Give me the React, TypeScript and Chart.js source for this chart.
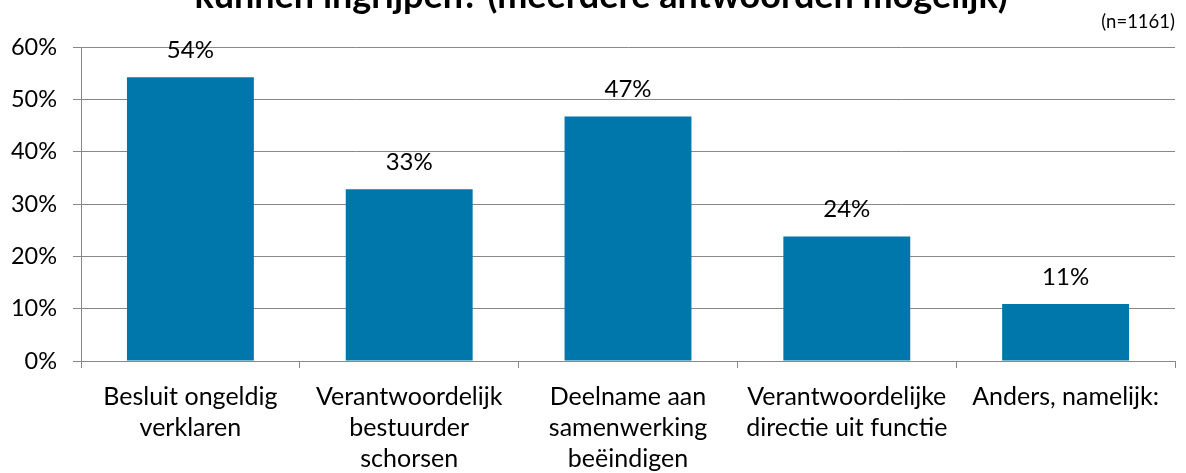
import React, { useEffect, useRef } from "react";
import { Chart, registerables } from "chart.js";

Chart.register(...registerables);

const categories: string[][] = [
  ["Besluit ongeldig", "verklaren"],
  ["Verantwoordelijk", "bestuurder", "schorsen"],
  ["Deelname aan", "samenwerking", "beëindigen"],
  ["Verantwoordelijke", "directie uit functie"],
  ["Anders, namelijk:"],
];
const values: number[] = [54.2, 32.8, 46.7, 23.8, 10.9];
const valueLabels: string[] = ["54%", "33%", "47%", "24%", "11%"];
const yTicks: number[] = [0, 10, 20, 30, 40, 50, 60];
const titleText = "kunnen ingrijpen? (meerdere antwoorden mogelijk)";
const noteText = "(n=1161)";

const FONT = "Lato, 'Open Sans', sans-serif";
const BAR = "#0077AA";

export default function App() {
  const ref = useRef<HTMLCanvasElement | null>(null);
  useEffect(() => {
    if (!ref.current) return;
    const overlay = {
      id: "overlay",
      afterDraw(chart: any) {
        const ctx = chart.ctx;
        ctx.save();
        ctx.fillStyle = "#000";
        ctx.font = `bold 36px ${FONT}`;
        ctx.textAlign = "center";
        ctx.textBaseline = "alphabetic";
        ctx.fillText(titleText, 601, 8);
        ctx.font = `18.5px ${FONT}`;
        ctx.textAlign = "right";
        ctx.textBaseline = "middle";
        ctx.fillText(noteText, 1175, 22);
        const meta = chart.getDatasetMeta(0);
        ctx.textAlign = "center";
        ctx.font = `24px ${FONT}`;
        meta.data.forEach((bar: any, i: number) => {
          ctx.fillText(valueLabels[i], bar.x, bar.y - 27);
        });
        ctx.restore();
      },
    };
    const chart = new Chart(ref.current, {
      type: "bar",
      data: {
        labels: categories,
        datasets: [
          {
            data: values,
            backgroundColor: BAR,
            barPercentage: 0.58,
            categoryPercentage: 1,
          },
        ],
      },
      options: {
        animation: false,
        responsive: false,
        layout: { padding: { left: 0, right: 11, top: 47, bottom: 0 } },
        plugins: { legend: { display: false }, tooltip: { enabled: false } },
        scales: {
          x: {
            grid: {
              offset: true,
              drawOnChartArea: false,
              drawTicks: true,
              tickLength: 7,
              color: "#888",
            },
            border: { color: "#888", width: 1 },
            ticks: {
              color: "#000",
              font: { family: FONT, size: 25, lineHeight: 1.25 },
              maxRotation: 0,
              autoSkip: false,
              padding: 13,
            },
            afterFit(scale: any) {
              scale.height = 112;
            },
          },
          y: {
            min: 0,
            max: 60,
            afterBuildTicks(scale: any) {
              scale.ticks = yTicks.map((v) => ({ value: v }));
            },
            grid: { color: "#888", tickLength: 8 },
            border: { color: "#888" },
            ticks: {
              color: "#000",
              font: { family: FONT, size: 23.5 },
              padding: 16,
              callback: (v: any) => `${v}%`,
            },
            afterFit(scale: any) {
              scale.width = 81;
            },
          },
        },
      },
      plugins: [overlay],
    });
    return () => chart.destroy();
  }, []);
  return (
    <div style={{ position: "fixed", left: 0, top: 0, width: 1186, height: 473, background: "#fff" }}>
      <canvas ref={ref} width={1186} height={473} />
    </div>
  );
}
